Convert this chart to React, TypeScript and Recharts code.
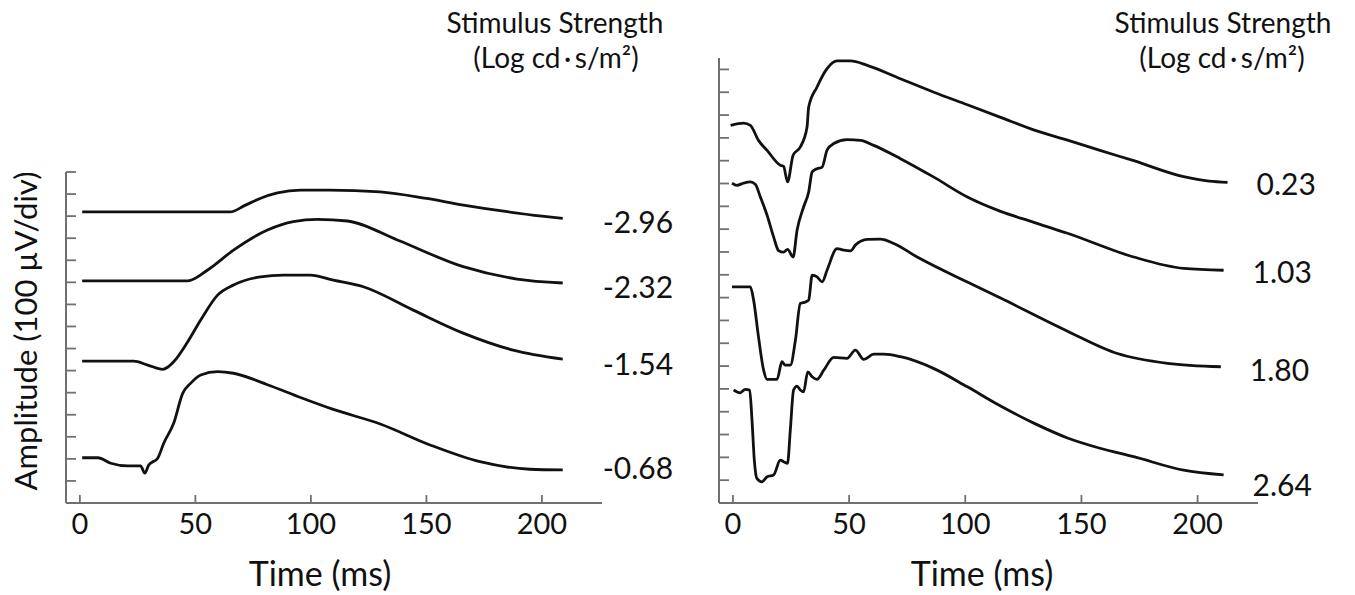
import React from 'react';
import { LineChart, Line, XAxis, YAxis } from 'recharts';

const FONT = 'Lato, "Open Sans", sans-serif';
const INK = '#111';
const AXIS = '#707070';

// shared time axis (ms)
const xTicks = [0, 50, 100, 150, 200];
const xDomain: [number, number] = [-6, 226];

// amplitude divisions (100 µV/div)
const leftYTicks = [0, 1, 2, 3, 4, 5, 6, 7, 8, 9, 10, 11, 12, 13, 14, 15];
const rightYTicks = [0, 1, 2, 3, 4, 5, 6, 7, 8, 9, 10, 11, 12, 13, 14, 15, 16, 17, 18, 19];

// stimulus strengths (Log cd·s/m²)
const leftStrengths = ['-2.96', '-2.32', '-1.54', '-0.68'];
const rightStrengths = ['0.23', '1.03', '1.80', '2.64'];

// left panel traces: [time ms, amplitude div]
const traceM296: [number, number][] = [
  [1, 13.19], [30, 13.19], [65, 13.19], [71.7, 13.5], [78, 13.8], [85.5, 14.05], [95.5, 14.18],
  [108, 14.18], [130, 14.1], [150, 13.8], [166, 13.5], [185, 13.2], [200, 13.0], [209, 12.9],
];
const traceM232: [number, number][] = [
  [1, 10.07], [46.7, 10.07], [55.3, 10.56], [66.5, 11.46], [81.2, 12.37], [92.4, 12.75],
  [102.8, 12.85], [115.8, 12.78], [137.4, 11.92], [165.9, 10.71], [189.2, 10.15], [209, 9.97],
];
const traceM154: [number, number][] = [
  [1, 6.43], [23.3, 6.43], [29.4, 6.25], [35.9, 6.06], [38, 6.15], [40.6, 6.4], [46.7, 7.31],
  [52.3, 8.29], [59.6, 9.42], [66.5, 9.88], [78.2, 10.25], [88.1, 10.33], [99.8, 10.33],
  [109.7, 10.1], [122.7, 9.8], [144.3, 8.74], [165.9, 7.7], [187.5, 6.93], [209, 6.52],
];
const traceM068: [number, number][] = [
  [1, 2.05], [7.8, 2.05], [13.4, 1.8], [20.7, 1.68], [26.3, 1.68], [28.1, 1.35], [29.8, 1.72],
  [33.7, 2.03], [36.3, 2.71], [40.6, 3.61], [44.5, 4.97], [47.9, 5.42], [52.3, 5.8], [59.6, 5.95],
  [66.5, 5.88], [81.2, 5.36], [95.5, 4.78], [109.7, 4.24], [130, 3.58], [151.6, 2.63],
  [173.2, 1.87], [194.8, 1.53], [209, 1.5],
];

// right panel traces
const traceP023: [number, number][] = [
  [-1, 16.55], [4.6, 16.65], [7.5, 16.55], [11, 15.89], [14.7, 15.45], [20.4, 14.8], [21.8, 14.75],
  [23.5, 14.07], [25.9, 15.24], [29, 15.6], [31.9, 16.48], [32.6, 17.35], [36.2, 18.23],
  [40.5, 19.03], [44.8, 19.37], [50.6, 19.37], [57.8, 19.18], [72.1, 18.59], [86.5, 18.0],
  [100.9, 17.45], [115.2, 16.9], [129.4, 16.35], [144, 15.9], [158, 15.45], [172.5, 15.0],
  [194, 14.3], [205, 14.1], [212.9, 14.05],
];
const traceP103: [number, number][] = [
  [-0.4, 14.02], [1.7, 13.92], [4.6, 14.02], [7.5, 14.07], [9.6, 13.97], [11.8, 13.41],
  [14.7, 12.61], [17.5, 11.66], [19.7, 11.05], [21.8, 10.99], [23.5, 11.11], [25.9, 10.78],
  [27.6, 11.95], [30.4, 12.97], [32.6, 13.63], [34.1, 14.51], [36.2, 14.65], [38.4, 14.72],
  [40.5, 15.46], [43.4, 15.75], [49.1, 15.92], [54.9, 15.89], [60.6, 15.67], [72.1, 15.09],
  [86.3, 14.29], [100.9, 13.41], [115.2, 12.78], [129.5, 12.3], [144, 11.82], [172.5, 10.78],
  [194, 10.28], [211.2, 10.2],
];
const traceP180: [number, number][] = [
  [-0.4, 9.47], [7.5, 9.47], [8.9, 8.89], [11, 7.28], [13.2, 5.82], [14.7, 5.42], [19, 5.42],
  [21.1, 6.19], [22.5, 6.04], [24.7, 6.04], [26.9, 7.14], [29, 8.74], [31.2, 8.81], [32.6, 8.89],
  [34.1, 9.98], [36.2, 9.91], [38.4, 9.69], [40.5, 10.2], [44.8, 11.15], [47.7, 11.08],
  [50.6, 11.05], [52.7, 11.3], [57.8, 11.55], [63.5, 11.56], [69.2, 11.37], [79.3, 10.78],
  [100.9, 9.68], [115.2, 8.98], [144, 7.53], [165.5, 6.55], [187.1, 6.12], [210, 5.97],
];
const traceP264: [number, number][] = [
  [0.3, 4.95], [3.1, 4.83], [5.3, 4.98], [7.2, 4.95], [8.2, 3.63], [9.2, 1.88], [10.3, 1.08],
  [12.5, 0.93], [14.7, 1.15], [17.5, 1.23], [20.4, 1.88], [21.8, 1.81], [23.5, 1.74], [24.7, 3.2],
  [26.1, 4.95], [27.6, 5.12], [29, 4.95], [30.4, 4.87], [32.2, 5.75], [34.1, 5.53], [36.2, 5.42],
  [39.1, 5.82], [43.4, 6.38], [49.1, 6.34], [52.7, 6.7], [56.3, 6.29], [60.6, 6.52], [64.9, 6.52],
  [72.1, 6.41], [86.3, 5.9], [100.9, 5.09], [115.2, 4.25], [129.5, 3.5], [144, 2.85],
  [158, 2.4], [172.5, 2.03], [194, 1.44], [211.2, 1.23],
];

const leftTraces = [traceM296, traceM232, traceM154, traceM068];
const rightTraces = [traceP023, traceP103, traceP180, traceP264];

// label nudges (pixels) relative to each trace's last point
const leftLabelDy = [3, 3, 4, -3];
const rightLabelDy = [1, 1, 2, 9];

const toRows = (tr: [number, number][]) => tr.map(([t, v]) => ({ t, v }));

function endLabel(text: string, count: number, dx: number, dy: number) {
  return (p: any) => {
    if (p.index !== count - 1) return <g />;
    const x = (p.x ?? p.viewBox?.x) + dx;
    const y = (p.y ?? p.viewBox?.y) + dy;
    return (
      <text x={x} y={y} dominantBaseline="central" fontFamily={FONT} fontSize={30} fill={INK}>
        {text}
      </text>
    );
  };
}

const NoTick = () => <g />;

type PanelProps = {
  left: number;
  width: number;
  margin: { top: number; right: number; bottom: number; left: number };
  yDomain: [number, number];
  yTicks: number[];
  traces: [number, number][][];
  labels: string[];
  labelDx: number;
  labelDy: number[];
};

function Panel({ left, width, margin, yDomain, yTicks, traces, labels, labelDx, labelDy }: PanelProps) {
  return (
    <div style={{ position: 'absolute', left, top: 0 }}>
      <LineChart width={width} height={595} margin={margin}>
        <XAxis
          xAxisId="labels"
          type="number"
          dataKey="t"
          domain={xDomain}
          ticks={xTicks}
          interval={0}
          allowDataOverflow
          height={40}
          tickSize={0}
          tickMargin={10}
          tickLine={false}
          axisLine={false}
          tick={{ fontFamily: FONT, fontSize: 29, fill: INK }}
        />
        <XAxis
          xAxisId="marks"
          type="number"
          dataKey="t"
          domain={xDomain}
          ticks={xTicks}
          interval={0}
          allowDataOverflow
          mirror
          height={30}
          tick={NoTick}
          tickSize={8}
          tickLine={{ stroke: AXIS, strokeWidth: 1.8 }}
          axisLine={{ stroke: AXIS, strokeWidth: 2 }}
        />
        <YAxis
          type="number"
          domain={yDomain}
          ticks={yTicks}
          interval={0}
          allowDataOverflow
          mirror
          width={30}
          tick={NoTick}
          tickSize={10}
          tickLine={{ stroke: AXIS, strokeWidth: 1.8 }}
          axisLine={{ stroke: AXIS, strokeWidth: 2 }}
        />
        {traces.map((tr, i) => (
          <Line
            key={labels[i]}
            xAxisId="marks"
            data={toRows(tr)}
            dataKey="v"
            type="monotone"
            stroke={INK}
            strokeWidth={2.8}
            dot={false}
            isAnimationActive={false}
            label={endLabel(labels[i], tr.length, labelDx, labelDy[i])}
          />
        ))}
      </LineChart>
    </div>
  );
}

export default function App() {
  return (
    <div style={{ position: 'absolute', left: 0, top: 0, width: 1355, height: 595, background: '#fff', overflow: 'hidden' }}>
      <Panel
        left={0}
        width={700}
        margin={{ top: 172, right: 98, bottom: 52, left: 66 }}
        yDomain={[0, 15]}
        yTicks={leftYTicks}
        traces={leftTraces}
        labels={leftStrengths}
        labelDx={40}
        labelDy={leftLabelDy}
      />
      <Panel
        left={680}
        width={675}
        margin={{ top: 58, right: 97, bottom: 52, left: 39 }}
        yDomain={[0, 19.5]}
        yTicks={rightYTicks}
        traces={rightTraces}
        labels={rightStrengths}
        labelDx={29}
        labelDy={rightLabelDy}
      />
      <svg width={1355} height={595} style={{ position: 'absolute', left: 0, top: 0, pointerEvents: 'none' }}>
        <g fontFamily={FONT} fill={INK}>
          <text x={555} y={33} fontSize={28} textAnchor="middle">Stimulus Strength</text>
          <text x={556} y={68} fontSize={28} textAnchor="middle">(Log cd{'\u2009·\u2009'}s/m²)</text>
          <text x={1223} y={33} fontSize={28} textAnchor="middle">Stimulus Strength</text>
          <text x={1222} y={68} fontSize={28} textAnchor="middle">(Log cd{'\u2009·\u2009'}s/m²)</text>
          <text x={320} y={586} fontSize={34} textAnchor="middle">Time (ms)</text>
          <text x={982} y={586} fontSize={34} textAnchor="middle">Time (ms)</text>
          <text transform="translate(37,331) rotate(-90)" fontSize={31} textAnchor="middle">Amplitude (100 µV/div)</text>
        </g>
      </svg>
    </div>
  );
}
